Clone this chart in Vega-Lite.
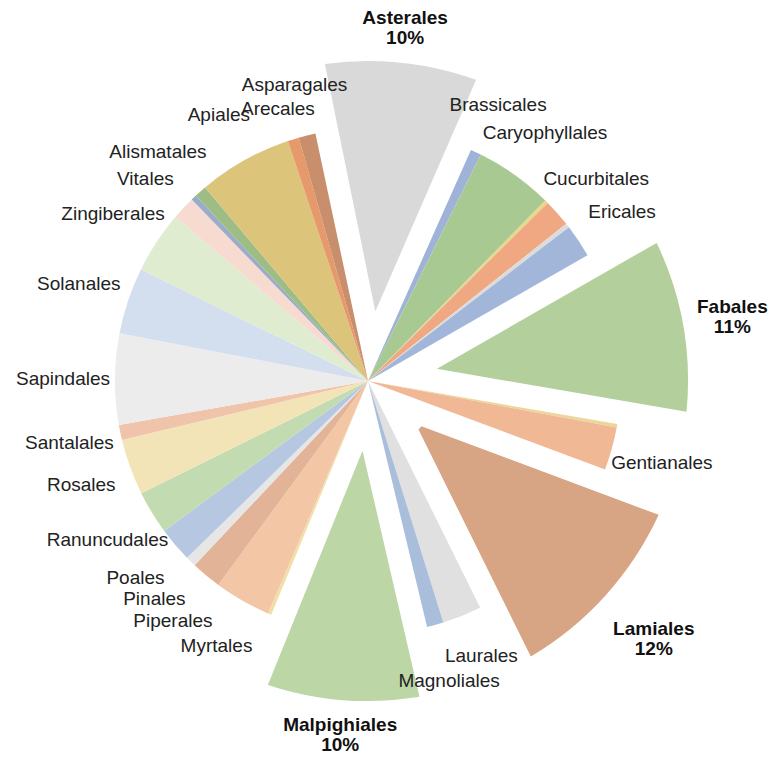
{
  "$schema": "https://vega.github.io/schema/vega-lite/v6.json",
  "width": 736,
  "height": 762,
  "padding": {"left": 0, "top": 0, "right": 37, "bottom": 5},
  "autosize": {"type": "none"},
  "background": "white",
  "view": {"stroke": null},
  "data": {"values": [
    {"k": 1, "name": "Asterales", "pct": 0.100},
    {"k": 2, "name": "Brassicales", "pct": 0.0069},
    {"k": 3, "name": "Caryophyllales", "pct": 0.050},
    {"k": 4, "name": "", "pct": 0.0022},
    {"k": 5, "name": "Cucurbitales", "pct": 0.0175},
    {"k": 6, "name": "", "pct": 0.0028},
    {"k": 7, "name": "Ericales", "pct": 0.0211},
    {"k": 8, "name": "Fabales", "pct": 0.110},
    {"k": 9, "name": "", "pct": 0.0022},
    {"k": 10, "name": "Gentianales", "pct": 0.0275},
    {"k": 11, "name": "Lamiales", "pct": 0.120},
    {"k": 12, "name": "Laurales", "pct": 0.025},
    {"k": 13, "name": "Magnoliales", "pct": 0.0106},
    {"k": 14, "name": "Malpighiales", "pct": 0.100},
    {"k": 15, "name": "", "pct": 0.0022},
    {"k": 16, "name": "Myrtales", "pct": 0.0361},
    {"k": 17, "name": "Piperales", "pct": 0.0194},
    {"k": 18, "name": "Pinales", "pct": 0.0067},
    {"k": 19, "name": "Poales", "pct": 0.0222},
    {"k": 20, "name": "Ranuncudales", "pct": 0.0278},
    {"k": 21, "name": "Rosales", "pct": 0.0356},
    {"k": 22, "name": "Santalales", "pct": 0.0097},
    {"k": 23, "name": "Sapindales", "pct": 0.058},
    {"k": 24, "name": "Solanales", "pct": 0.0425},
    {"k": 25, "name": "Zingiberales", "pct": 0.0396},
    {"k": 26, "name": "Vitales", "pct": 0.015},
    {"k": 27, "name": "Alismatales", "pct": 0.0036},
    {"k": 28, "name": "", "pct": 0.0078},
    {"k": 29, "name": "Apiales", "pct": 0.060},
    {"k": 30, "name": "Arecales", "pct": 0.0072},
    {"k": 31, "name": "Asparagales", "pct": 0.0108}
  ]},
  "encoding": {
    "theta": {"field": "pct", "type": "quantitative", "stack": true, "scale": {"range": [-0.2094, 6.0738]}},
    "order": {"field": "k", "type": "quantitative"}
  },
  "layer": [
    {
      "mark": {"type": "arc", "radius": 253},
      "encoding": {
        "color": {"field": "k", "type": "nominal", "legend": null, "scale": {
          "domain": [1,2,3,4,5,6,7,8,9,10,11,12,13,14,15,16,17,18,19,20,21,22,23,24,25,26,27,28,29,30,31],
          "range": ["#d9d9d9","#9fb3d8","#a9c992","#e8d68c","#f0a883","#dcdcdc","#a2b6d9","#b3cf9b","#ecd79a","#f0b894","#d7a584","#e0e0e0","#a9bedb","#bcd6a6","#f0dfa6","#f3c6a6","#e3b397","#e6e6e6","#b5c7e1","#c3dbb0","#f3e4b8","#efc4ab","#ececec","#d3dfef","#dfecd0","#f7dad0","#9aacc8","#9dbd84","#dcc47a","#e69a6c","#c98e6b"]
        }},
        "opacity": {"condition": {"test": "datum.pct >= 0.09", "value": 0}, "value": 1}
      }
    },
    {
      "mark": {"type": "arc", "radius": 320, "radius2": 70, "padAngle": 0.145},
      "encoding": {
        "color": {"field": "k", "type": "nominal", "legend": null},
        "opacity": {"condition": {"test": "datum.pct >= 0.09", "value": 1}, "value": 0}
      }
    },
    {
      "mark": {"type": "text", "radius": 305, "font": "Liberation Sans", "fontSize": 19, "fill": "#222222", "align": "center", "baseline": "middle"},
      "encoding": {
        "text": {"condition": {"test": "datum.pct < 0.09 && indexof(['Arecales','Alismatales','Vitales','Laurales','Magnoliales','Piperales'], datum.name) < 0", "field": "name"}, "value": ""}
      }
    },
    {
      "mark": {"type": "text", "radius": 305, "font": "Liberation Sans", "fontSize": 19, "fill": "#222222", "align": "center", "baseline": "middle", "dy": -8},
      "encoding": {
        "text": {"condition": {"test": "datum.name === 'Alismatales' || datum.name === 'Laurales'", "field": "name"}, "value": ""}
      }
    },
    {
      "mark": {"type": "text", "radius": 305, "font": "Liberation Sans", "fontSize": 19, "fill": "#222222", "align": "center", "baseline": "middle", "dy": 6},
      "encoding": {
        "text": {"condition": {"test": "datum.name === 'Vitales' || datum.name === 'Magnoliales' || datum.name === 'Piperales'", "field": "name"}, "value": ""}
      }
    },
    {
      "mark": {"type": "text", "radius": 305, "font": "Liberation Sans", "fontSize": 19, "fill": "#222222", "align": "center", "baseline": "middle", "dy": 19},
      "encoding": {
        "text": {"condition": {"test": "datum.name === 'Arecales'", "field": "name"}, "value": ""}
      }
    },
    {
      "mark": {"type": "text", "font": "Liberation Sans", "fontSize": 19, "fontWeight": "bold", "fill": "#111111", "align": "center", "baseline": "middle", "dy": -10},
      "encoding": {
        "radius": {"field": "pct", "type": "quantitative", "scale": {"type": "linear", "zero": false, "domain": [0.10, 0.12], "range": [355, 385]}},
        "text": {"condition": {"test": "datum.pct >= 0.09", "field": "name"}, "value": ""}
      }
    },
    {
      "mark": {"type": "text", "font": "Liberation Sans", "fontSize": 19, "fontWeight": "bold", "fill": "#111111", "align": "center", "baseline": "middle", "dy": 10},
      "encoding": {
        "radius": {"field": "pct", "type": "quantitative", "scale": {"type": "linear", "zero": false, "domain": [0.10, 0.12], "range": [355, 385]}},
        "text": {"condition": {"test": "datum.pct >= 0.09", "field": "pct", "type": "quantitative", "format": ".0%"}, "value": ""}
      }
    }
  ]
}
